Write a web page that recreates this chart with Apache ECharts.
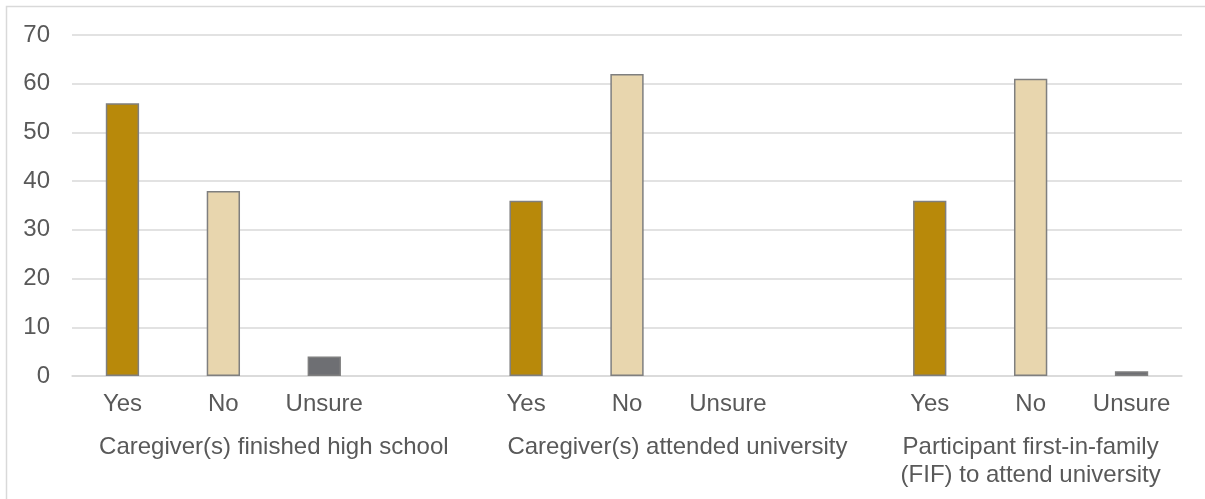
<!DOCTYPE html>
<html>
<head>
<meta charset="utf-8">
<script src="https://cdn.jsdelivr.net/npm/echarts@6/dist/echarts.min.js"></script>
<style>
  html, body { margin: 0; padding: 0; background: #ffffff; }
  #chart { width: 1205px; height: 499px; }
</style>
</head>
<body>
<div id="chart"></div>
<script>
// Answer slots along the category axis; an empty slot separates each question group
const categories = ['Yes', 'No', 'Unsure', '', 'Yes', 'No', 'Unsure', '', 'Yes', 'No', 'Unsure'];
// Number of participants per answer (null = spacer slot)
const counts = [56, 38, 4, null, 36, 62, 0, null, 36, 61, 1];
// Question groups: label and the slot range each one spans
const groupLabels = ['Caregiver(s) finished high school', 'Caregiver(s) attended university', 'Participant first-in-family\n(FIF) to attend university'];
const groupStart = [0, 4, 8];
const groupEnd = [3, 7, 10];
const yTicks = { min: 0, max: 70, interval: 10 };

const answerColors = { 'Yes': '#B8890A', 'No': '#E8D6AE', 'Unsure': '#6E6F73' };
const textColor = '#595959';
const fontFamily = '"Liberation Sans", Arial, sans-serif';
const fontSize = 24;

const chart = echarts.init(document.getElementById('chart'));

// Zero counts draw no visible bar (no outline either)
const barData = counts.map((v, i) => ({
  value: v,
  itemStyle: {
    color: answerColors[categories[i]] || '#cccccc',
    borderWidth: v ? 1.5 : 0
  }
}));

chart.setOption({
  animation: false,
  grid: { left: 72, right: 23, top: 35, bottom: 123, containLabel: false },
  xAxis: {
    type: 'category',
    data: categories,
    axisLine: { lineStyle: { color: '#d9d9d9', width: 1.5 } },
    axisTick: { show: false },
    axisLabel: { color: textColor, fontSize: fontSize, fontFamily: fontFamily, margin: 16, interval: 0 }
  },
  yAxis: {
    type: 'value',
    min: yTicks.min,
    max: yTicks.max,
    interval: yTicks.interval,
    axisLine: { show: false },
    axisTick: { show: false },
    axisLabel: { color: textColor, fontSize: fontSize, fontFamily: fontFamily, margin: 22 },
    splitLine: { lineStyle: { color: '#d9d9d9', width: 1.5 } }
  },
  series: [{
    type: 'bar',
    data: barData,
    barWidth: '33%',
    itemStyle: { borderColor: '#7f7f7f' }
  }]
});

// Group captions beneath the answer labels, centred on each group's span
const groupText = groupLabels.map((label, g) => {
  const x0 = chart.convertToPixel({ xAxisIndex: 0 }, groupStart[g]);
  const x1 = chart.convertToPixel({ xAxisIndex: 0 }, groupEnd[g]);
  return {
    type: 'text',
    x: (x0 + x1) / 2,
    y: 433,
    style: {
      text: label,
      fill: textColor,
      font: fontSize + 'px ' + fontFamily,
      textAlign: 'center',
      textVerticalAlign: 'top',
      lineHeight: 28
    }
  };
});

chart.setOption({
  graphic: [
    {
      type: 'rect',
      shape: { x: 6.5, y: 6.5, width: 1220, height: 520 },
      style: { fill: 'none', stroke: '#d9d9d9', lineWidth: 1.5 },
      silent: true
    }
  ].concat(groupText)
});
</script>
</body>
</html>
